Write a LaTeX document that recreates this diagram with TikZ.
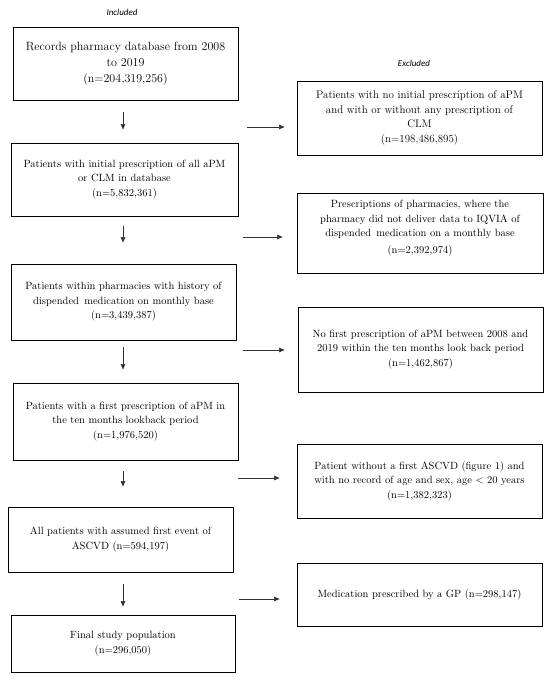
\documentclass[tikz,border=0pt]{standalone}
\usepackage{fontspec}
\newfontfamily\labfont{Carlito}
\usetikzlibrary{arrows.meta,calc}
\begin{document}
\begin{tikzpicture}[x=1pt,y=-1pt,
  box/.style={draw=black, line width=0.8pt, align=center, inner sep=0pt,
    font=\fontsize{10.5}{14.5}\selectfont},
  bigbox/.style={box, font=\fontsize{12}{16}\selectfont},
  midbox/.style={box, font=\fontsize{11}{14.5}\selectfont},
  arr/.style={draw=black!80, line width=0.6pt, -{Stealth[length=5.5pt,width=4.5pt,inset=0pt]}},
  harr/.style={arr, shorten >=12pt},
  lab/.style={font=\labfont\itshape\fontsize{9}{10}\selectfont, inner sep=0pt}]
\useasboundingbox (0,0) rectangle (550,681);
\fill[white] (0,0) rectangle (550,681);
% labels
\node[lab] (inc) at (122,12) {Included};
\node[lab] (exc) at (414,63) {Excluded};
% left column
\node[bigbox, minimum width=225pt, minimum height=73pt] (b1) at (125.5,63.5)
  {Records pharmacy database from 2008\\ to 2019\\ (n=204,319,256)};
\node[box, minimum width=227pt, minimum height=73pt] (b2) at (124.5,179.5)
  {Patients with initial prescription of all aPM\\ or CLM in database\\ (n=5,832,361)};
\node[box, minimum width=225pt, minimum height=76pt] (b3) at (123.5,302)
  {Patients within pharmacies with history of\\ dispended\, medication on monthly base\\ (n=3,439,387)};
\node[box, minimum width=225pt, minimum height=77pt] (b4) at (125.5,421.5)
  {Patients with a first prescription of aPM in\\ the ten months lookback period\\ (n=1,976,520)};
\node[box, minimum width=225pt, minimum height=65pt] (b5) at (120.5,539.5)
  {All patients with assumed first event of\\ ASCVD (n=594,197)};
\node[box, minimum width=224pt, minimum height=57pt] (b6) at (123,643.5)
  {Final study population\\ (n=296,050)};
% right column
\node[midbox, minimum width=245pt, minimum height=74pt] (e1) at (419.5,118)
  {Patients with no initial prescription of aPM\\ and with or without any prescription of\\ CLM\\ (n=198,486,895)};
\node[box, minimum width=246pt, minimum height=80pt] (e2) at (420,233)
  {Prescriptions of pharmacies, where the\\ pharmacy did not deliver data to IQVIA of\\ dispended\, medication on a monthly base\\[2.5pt] (n=2,392,974)\\[-3pt]\mbox{}};
\node[box, minimum width=245pt, minimum height=85pt] (e3) at (420.5,349.5)
  {No first prescription of aPM between 2008 and\\ 2019 within the ten months look back period\\ (n=1,462,867)};
\node[box, minimum width=245pt, minimum height=74pt] (e4) at (419.5,481)
  {Patient without a first ASCVD (figure 1) and\\ with no record of age and sex, age < 20 years\\ (n=1,382,323)};
\node[box, minimum width=245pt, minimum height=63pt] (e5) at (419.5,594.5)
  {Medication prescribed by a GP (n=298,147)};
% down arrows
\draw[arr] ($(b1.south)+(-2.5,12)$) -- ($(b2.north)+(-1.5,-13)$);
\draw[arr] ($(b2.south)+(-1.5,10)$) -- ($(b3.north)+(-0.5,-21)$);
\draw[arr] ($(b3.south)+(-0.5,7)$) -- ($(b4.north)+(-2.5,-13)$);
\draw[arr] ($(b4.south)+(-2.5,11)$) -- ($(b5.north)+(2.5,-20)$);
\draw[arr] ($(b5.south)+(2.5,12)$) -- ($(b6.north)+(0,-8)$);
% horizontal arrows
\coordinate (h1) at (247,127);
\coordinate (h2) at (243,237);
\coordinate (h3) at (243,350);
\coordinate (h4) at (238,478);
\coordinate (h5) at (239,599);
\draw[harr] (h1) -- (h1 -| e1.west);
\draw[harr, shorten >=14pt] (h2) -- (h2 -| e2.west);
\draw[harr, shorten >=13pt] (h3) -- (h3 -| e3.west);
\draw[harr, shorten >=17pt] (h4) -- (h4 -| e4.west);
\draw[harr, shorten >=17pt] (h5) -- (h5 -| e5.west);
\end{tikzpicture}
\end{document}
